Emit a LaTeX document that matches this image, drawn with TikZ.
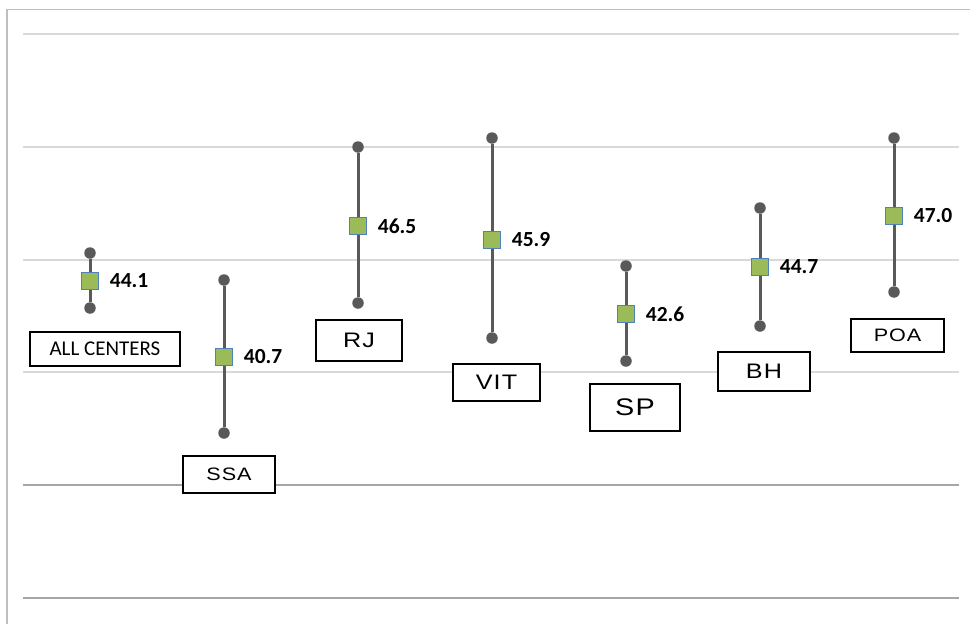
\documentclass[tikz,border=0pt]{standalone}
\usepackage{fontspec}
\setmainfont{Carlito}
\newfontfamily\boxfont[FakeStretch=1.2,LetterSpace=5]{Liberation Sans}
\definecolor{gridlight}{HTML}{D9D9D9}
\definecolor{griddark}{HTML}{A6A6A6}
\definecolor{framegray}{HTML}{BFBFBF}
\definecolor{barcol}{HTML}{595959}
\definecolor{meanfill}{HTML}{9BBB59}
\definecolor{meanedge}{HTML}{4F81BD}
\tikzset{
  gridl/.style={draw=gridlight,line width=1.5pt},
  gridd/.style={draw=griddark,line width=1.8pt},
  enddot/.style={circle,fill=barcol,inner sep=0pt,minimum size=11.5pt},
  barline/.style={draw=barcol,line width=3pt},
  meanbox/.style={rectangle,fill=meanfill,draw=meanedge,line width=1.3pt,inner sep=0pt,minimum size=17pt},
  vallabel/.style={anchor=west,inner sep=0pt,font=\fontsize{21.5}{25}\selectfont\bfseries},
  catbox/.style={rectangle,draw=black,fill=white,line width=1.4pt,inner sep=0pt},
}
\begin{document}
\begin{tikzpicture}[x=1pt,y=-1pt]
\useasboundingbox (0,0) rectangle (970,624);
% frame
\coordinate (fb) at (7,624);
\coordinate (fc) at (7,9.5);
\coordinate (fr) at (970,9.5);
\draw[framegray,line width=1.4pt] (fb) -- (fc) -- (fr);
% gridlines
\foreach \yy/\st in {34/gridl,147/gridl,260/gridl,372/gridl,485/gridd,598/gridd}{
  \coordinate (gl\yy) at (23,\yy);
  \coordinate (gr\yy) at (959,\yy);
  \draw[\st] (gl\yy) -- (gr\yy);
}
% error bars: name/x/top/bottom/mean/value
\foreach \n/\xx/\tp/\bt/\mm/\vv in {
  a/90/253/308/281/44.1,
  b/224/280/433/357/40.7,
  c/358/147/303/226/46.5,
  d/492/138/338/240/45.9,
  e/626/266/361/314/42.6,
  f/760/208/326/267/44.7,
  g/894/138/292/216/47.0}{
  \node[enddot] (t\n) at (\xx,\tp) {};
  \node[enddot] (b\n) at (\xx,\bt) {};
  \draw[barline] (t\n) -- (b\n);
  \node[meanbox] (m\n) at (\xx,\mm) {};
  \node[vallabel] (v\n) at ([xshift=10.5pt]m\n.east) {\vv};
}
% category boxes
\node[catbox,minimum width=150pt,minimum height=34pt,font=\fontsize{21}{25}\selectfont] (ca) at (105,349) {ALL CENTERS};
\node[catbox,minimum width=92pt,minimum height=37pt,font=\boxfont\fontsize{18}{21}\selectfont] (cb) at (229,474.5) {SSA};
\node[catbox,minimum width=86pt,minimum height=41pt,font=\boxfont\fontsize{21}{25}\selectfont] (cc) at (359,340.5) {RJ};
\node[catbox,minimum width=87pt,minimum height=37pt,font=\boxfont\fontsize{21}{25}\selectfont] (cd) at (496.5,382.5) {VIT};
\node[catbox,minimum width=90pt,minimum height=47pt,font=\boxfont\fontsize{24}{28}\selectfont] (ce) at (635,407.5) {SP};
\node[catbox,minimum width=92pt,minimum height=39pt,font=\boxfont\fontsize{21}{25}\selectfont] (cf) at (764,371.5) {BH};
\node[catbox,minimum width=93pt,minimum height=33pt,font=\boxfont\fontsize{18}{21}\selectfont] (cg) at (897.5,335.5) {POA};
\end{tikzpicture}
\end{document}
